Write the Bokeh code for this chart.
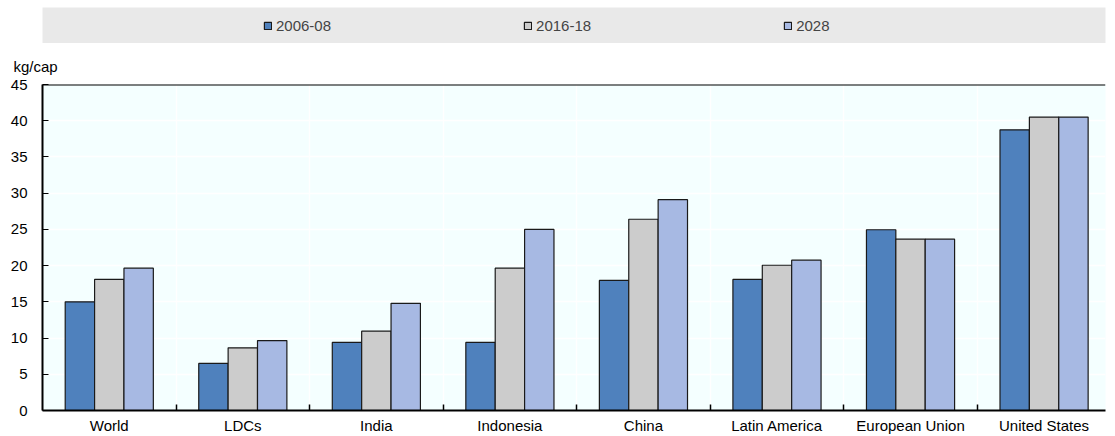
from bokeh.plotting import figure
from bokeh.models import (ColumnDataSource, Range1d, FixedTicker, Legend, LegendItem, Span)
from bokeh.layouts import column
from bokeh.transform import dodge
from bokeh.embed import file_html
from bokeh.resources import INLINE

categories = ["World", "LDCs", "India", "Indonesia", "China", "Latin America",
              "European Union", "United States"]
v_2006_08 = [15.0, 6.5, 9.4, 9.4, 17.95, 18.1, 24.95, 38.75]
v_2016_18 = [18.1, 8.65, 10.95, 19.65, 26.4, 20.05, 23.65, 40.5]
v_2028 = [19.65, 9.65, 14.8, 25.0, 29.1, 20.75, 23.65, 40.5]
series_names = ["2006-08", "2016-18", "2028"]
y_ticks = [0, 5, 10, 15, 20, 25, 30, 35, 40, 45]

FONT = "Liberation Sans, Arial, sans-serif"
FS = "15px"
colors = ["#4F81BD", "#CCCCCC", "#A7B9E3"]
edge = "#1a1a1a"

pos = [i + 0.5 for i in range(len(categories))]
bounds = [i for i in range(1, len(categories))]
src = ColumnDataSource(dict(x=pos, a=v_2006_08, b=v_2016_18, c=v_2028))
cols = ["a", "b", "c"]

# ---------------- legend band ----------------
leg = figure(width=1115, height=43, output_backend="svg", toolbar_location=None,
             x_range=Range1d(0, 1), y_range=Range1d(-2, -1),
             x_axis_location=None, y_axis_location=None,
             min_border_left=36, min_border_right=10, min_border_top=7, min_border_bottom=0)
leg.background_fill_color = "#E9E9E9"
leg.border_fill_color = "white"
leg.outline_line_color = None
leg.grid.visible = False
leg_renderers = []
for col, colr in zip(cols, colors):
    r = leg.vbar(x="x", top=col, width=0.1, source=src, fill_color=colr,
                 line_color=edge, line_width=1.2, visible=False)
    leg_renderers.append(r)
items = [LegendItem(label=n, renderers=[r]) for n, r in zip(series_names, leg_renderers)]
legend = Legend(items=items, orientation="horizontal", location=(221, 9),
                padding=0, spacing=192, glyph_width=9, glyph_height=9,
                label_standoff=4, label_text_font=FONT, label_text_font_size=FS,
                label_height=18, background_fill_alpha=0, border_line_color=None,
                margin=0, click_policy="none")
leg.add_layout(legend, "center")

# ---------------- main chart ----------------
p = figure(width=1115, height=393, output_backend="svg", toolbar_location=None,
           x_range=Range1d(0, 7.96), y_range=Range1d(0, 45),
           min_border_left=42, min_border_right=0, min_border_top=41, min_border_bottom=26)
p.background_fill_color = "#F4FFFF"
p.border_fill_color = "white"
p.outline_line_color = None

p.title.text = "kg/cap"
p.title.text_font = FONT
p.title.text_font_size = FS
p.title.text_font_style = "normal"
p.title.text_color = "black"
p.title.align = "left"
p.title.offset = -29
p.title.standoff = 20

bw = 0.22
for col, off, colr in zip(cols, [-bw, 0.0, bw], colors):
    p.vbar(x=dodge("x", off, range=p.x_range), top=col, width=bw, bottom=0,
           source=src, fill_color=colr, line_color=edge, line_width=1.2)

p.xaxis.ticker = FixedTicker(ticks=pos, minor_ticks=bounds)
p.xaxis.major_label_overrides = {x: c for x, c in zip(pos, categories)}
p.xaxis.major_tick_in = 0
p.xaxis.major_tick_out = 0
p.xaxis.minor_tick_in = 6
p.xaxis.minor_tick_out = 0
p.xaxis.minor_tick_line_color = "black"
p.xaxis.minor_tick_line_width = 1.5
p.xaxis.axis_line_color = "black"
p.xaxis.axis_line_width = 2
p.xaxis.major_label_standoff = 6

p.yaxis.ticker = FixedTicker(ticks=y_ticks)
p.yaxis.major_tick_in = 6
p.yaxis.major_tick_out = 0
p.yaxis.major_tick_line_color = "black"
p.yaxis.minor_tick_line_color = None
p.yaxis.axis_line_color = "black"
p.yaxis.axis_line_width = 2
p.yaxis.major_label_standoff = 15

for ax in (p.xaxis, p.yaxis):
    ax.major_label_text_font = FONT
    ax.major_label_text_font_size = FS
    ax.major_label_text_color = "black"

p.xgrid.ticker = FixedTicker(ticks=bounds)
p.xgrid.grid_line_color = "white"
p.xgrid.grid_line_width = 1.5
p.ygrid.grid_line_color = "white"
p.ygrid.grid_line_width = 1.5

p.add_layout(Span(location=45, dimension="width", line_color="black", line_width=2))

layout = column(leg, p, spacing=0)
open("out.html", "w").write(file_html(layout, INLINE))
